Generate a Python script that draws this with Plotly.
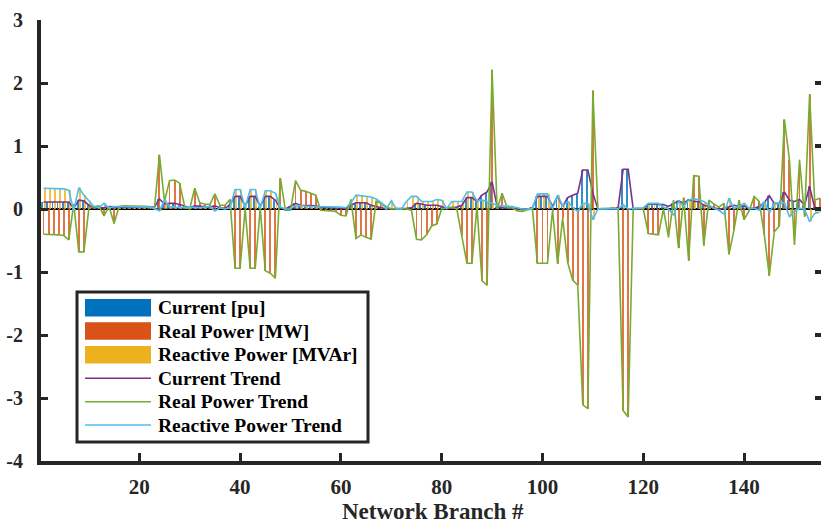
import plotly.graph_objects as go

branches = list(range(1, 156))

current = [
    0.11, 0.11, 0.11, 0.11, 0.11, 0.11, 0.01, 0.14, 0.13, 0.06,
    0.02, 0.02, 0.02, 0.04, 0.03, 0.03, 0.03, 0.03, 0.03, 0.03,
    0.03, 0.03, 0.03, 0.16, 0.08, 0.09, 0.09, 0.07, 0.05, 0.02,
    0.05, 0.04, 0.04, 0.03, 0.05, 0.02, 0.01, 0.07, 0.20, 0.20,
    0.05, 0.20, 0.20, 0.04, 0.20, 0.20, 0.14, 0.01, 0.00, 0.04,
    0.09, 0.06, 0.06, 0.05, 0.05, 0.03, 0.02, 0.02, 0.02, 0.01,
    0.01, 0.06, 0.10, 0.10, 0.10, 0.06, 0.04, 0.01, 0.00, 0.00,
    0.00, 0.00, 0.01, 0.02, 0.09, 0.08, 0.06, 0.06, 0.06, 0.04,
    0.00, 0.02, 0.03, 0.06, 0.18, 0.18, 0.12, 0.22, 0.27, 0.43,
    0.04, 0.02, 0.01, 0.01, 0.00, 0.00, 0.00, 0.02, 0.20, 0.20,
    0.20, 0.04, 0.20, 0.04, 0.18, 0.22, 0.25, 0.62, 0.62, 0.25,
    0.00, 0.00, 0.00, 0.00, 0.02, 0.63, 0.63, 0.00, 0.00, 0.01,
    0.08, 0.08, 0.08, 0.07, 0.04, 0.09, 0.13, 0.09, 0.15, 0.12,
    0.12, 0.06, 0.04, 0.01, 0.00, 0.01, 0.04, 0.06, 0.04, 0.05,
    0.01, 0.01, 0.04, 0.10, 0.21, 0.09, 0.09, 0.27, 0.14, 0.12,
    0.15, 0.06, 0.36, 0.02, 0.00,
]

real_power = [
    -0.40, -0.40, -0.41, -0.41, -0.42, -0.49, 0.08, -0.68, -0.68, 0.01,
    0.04, 0.05, -0.11, 0.04, -0.23, 0.04, 0.05, 0.05, 0.05, 0.05,
    0.05, 0.04, 0.00, 0.86, 0.12, 0.45, 0.46, 0.41, 0.04, 0.00,
    0.33, 0.10, 0.08, 0.07, 0.24, 0.06, 0.06, 0.15, -0.94, -0.94,
    0.00, -0.94, -0.94, 0.01, -0.98, -1.02, -1.10, 0.49, -0.02, -0.02,
    0.45, 0.30, 0.28, 0.25, 0.22, -0.02, -0.02, -0.03, -0.04, -0.10,
    -0.11, 0.15, -0.47, -0.41, -0.45, -0.48, 0.12, 0.09, 0.04, 0.00,
    0.01, 0.01, 0.00, -0.02, -0.48, -0.49, -0.41, -0.27, -0.24, 0.00,
    0.01, 0.03, 0.00, -0.43, -0.86, -0.86, 0.03, -1.14, -1.21, 2.21,
    0.00, 0.25, 0.02, 0.02, -0.03, -0.04, -0.01, 0.00, -0.86, -0.86,
    -0.86, -0.02, -0.87, -0.15, -0.85, -1.13, -1.21, -3.11, -3.17, 1.88,
    0.00, 0.00, 0.01, 0.02, 0.00, -3.20, -3.30, 0.00, 0.01, 0.00,
    -0.39, -0.40, -0.41, 0.00, -0.45, 0.14, -0.62, 0.18, -0.82, 0.53,
    0.52, -0.58, 0.14, 0.08, 0.03, 0.09, -0.72, -0.33, 0.14, -0.17,
    -0.03, 0.20, 0.12, -0.40, -1.06, -0.36, -0.27, 1.42, 0.78, -0.57,
    0.78, -0.12, 1.82, 0.14, 0.17,
]

reactive_power = [
    0.33, 0.33, 0.33, 0.33, 0.32, 0.30, -0.03, 0.34, 0.22, 0.13,
    0.04, 0.02, 0.09, 0.01, 0.04, 0.04, 0.04, 0.04, 0.04, 0.04,
    0.04, 0.03, 0.01, -0.03, 0.14, 0.04, 0.03, 0.02, 0.02, 0.03,
    0.02, 0.02, 0.03, 0.04, -0.03, 0.02, 0.00, 0.02, 0.31, 0.31,
    0.02, 0.31, 0.31, 0.01, 0.29, 0.29, 0.25, 0.03, 0.00, 0.00,
    0.06, 0.05, 0.05, 0.04, 0.04, 0.04, 0.03, 0.03, 0.03, 0.03,
    0.02, 0.10, 0.22, 0.21, 0.20, 0.19, 0.16, 0.10, 0.00, 0.13,
    0.00, 0.00, 0.12, 0.20, 0.20, 0.12, 0.12, 0.12, 0.15, 0.14,
    0.01, 0.12, 0.12, 0.12, 0.27, 0.27, 0.13, 0.14, 0.12, 0.09,
    0.06, 0.05, 0.05, 0.04, 0.02, 0.00, 0.00, 0.01, 0.24, 0.24,
    0.24, 0.00, 0.22, 0.05, 0.12, 0.03, -0.04, 0.09, 0.09, -0.17,
    0.00, 0.01, 0.01, 0.01, 0.00, 0.07, 0.00, 0.01, 0.01, 0.02,
    0.09, 0.09, 0.09, 0.03, 0.00, -0.10, 0.12, 0.04, 0.14, 0.17,
    0.15, 0.12, 0.06, 0.01, -0.02, -0.08, 0.17, 0.01, 0.04, 0.09,
    0.01, 0.01, -0.02, 0.12, -0.06, 0.09, 0.09, 0.10, -0.12, -0.04,
    0.01, 0.00, -0.20, -0.07, -0.05,
]

bar_names = ["Current [pu]", "Real Power [MW]", "Reactive Power [MVAr]"]
trend_names = ["Current Trend", "Real Power Trend", "Reactive Power Trend"]
x_tick_values = [20, 40, 60, 80, 100, 120, 140]
y_tick_values = [-4, -3, -2, -1, 0, 1, 2, 3]
y_tick_labels = ["-4", "-3", "-2", "-1", "0", "1", "2", "3"]
x_title = "Network Branch #"

bar_colors = ["#0072BD", "#D95319", "#EDB120"]
trend_colors = ["#7E2F8E", "#77AC30", "#4DBEEE"]
FONT = "Liberation Serif"
INK = "#262626"

W, H = 821, 525
L, R, T, B = 41, 0, 20, 64
PW, PH = W - L - R, H - T - B


def px(x):
    return (x - L) / PW


def py(y):
    return (H - B - y) / PH


series = [current, real_power, reactive_power]

fig = go.Figure()
for name, vals, col in zip(bar_names, series, bar_colors):
    fig.add_trace(go.Bar(x=branches, y=vals, name=name, marker_color=col,
                         marker_line_width=0, opacity=0.8, showlegend=False))
for name, vals, col in zip(trend_names, series, trend_colors):
    fig.add_trace(go.Scatter(x=branches, y=vals, name=name, mode="lines",
                             line=dict(color=col, width=1.6), showlegend=False))
# helper trace carrying the mirrored right-hand ticks
fig.add_trace(go.Scatter(x=[branches[0]], y=[0], yaxis="y2", mode="markers",
                         marker=dict(opacity=0), showlegend=False, hoverinfo="skip"))

x_range = [0.5, 0.5 + PW / 5.04]

fig.update_layout(
    width=W, height=H,
    margin=dict(l=L, r=R, t=T, b=B, pad=0, autoexpand=False),
    paper_bgcolor="white", plot_bgcolor="white",
    barmode="group", bargap=0.333, bargroupgap=0.2,
    font=dict(family=FONT, size=19, color=INK),
    xaxis=dict(range=x_range, tickvals=x_tick_values, ticks="inside", ticklen=8,
               tickwidth=3, tickcolor=INK, showline=True, linewidth=4,
               linecolor=INK, showgrid=False, zeroline=False, automargin=False,
               ticklabelstandoff=4,
               tickfont=dict(family=FONT, size=21, weight="bold", color=INK)),
    yaxis=dict(range=[-4, 3], tickvals=y_tick_values, ticktext=y_tick_labels,
               ticks="inside", ticklen=7, tickwidth=3, tickcolor=INK,
               showline=True, linewidth=4, linecolor=INK, showgrid=False,
               zeroline=True, zerolinecolor="black", zerolinewidth=2,
               ticklabelstandoff=10, automargin=False,
               tickfont=dict(family=FONT, size=20, weight="bold", color=INK)),
    yaxis2=dict(range=[-4, 3], overlaying="y", side="right", tickvals=y_tick_values,
                ticks="inside", ticklen=6, tickwidth=4, tickcolor=INK,
                showticklabels=False, showline=False, showgrid=False, zeroline=False,
                automargin=False),
)

# Legend drawn by hand to reproduce the wide MATLAB legend swatches
shapes = [dict(type="rect", xref="paper", yref="paper",
               x0=px(77), x1=px(368), y0=py(442), y1=py(292),
               line=dict(color=INK, width=3), fillcolor="white", layer="above")]
row_y = [307.7, 331.0, 354.7, 378.3, 401.7, 425.0]
labels = bar_names + trend_names
for k, col in enumerate(bar_colors):
    shapes.append(dict(type="rect", xref="paper", yref="paper",
                       x0=px(85), x1=px(151), y0=py(row_y[k] + 8.8), y1=py(row_y[k] - 8.8),
                       line=dict(width=0), fillcolor=col, layer="above"))
for k, col in enumerate(trend_colors):
    yy = row_y[3 + k]
    shapes.append(dict(type="line", xref="paper", yref="paper",
                       x0=px(85), x1=px(151), y0=py(yy), y1=py(yy),
                       line=dict(color=col, width=1.5), layer="above"))
annotations = []
for k, lab in enumerate(labels):
    annotations.append(dict(xref="paper", yref="paper", x=px(156), y=py(row_y[k]),
                            text="<b>" + lab + "</b>", showarrow=False,
                            xanchor="left", yanchor="middle",
                            font=dict(family=FONT, size=19.5, color="black")))
# x-axis title placed explicitly beneath the tick labels
annotations.append(dict(xref="paper", yref="paper", x=px(433), y=py(512),
                        text="<b>" + x_title + "</b>", showarrow=False,
                        xanchor="center", yanchor="middle",
                        font=dict(family=FONT, size=23, color=INK)))
fig.update_layout(shapes=shapes, annotations=annotations)

fig.write_html("out.html")
